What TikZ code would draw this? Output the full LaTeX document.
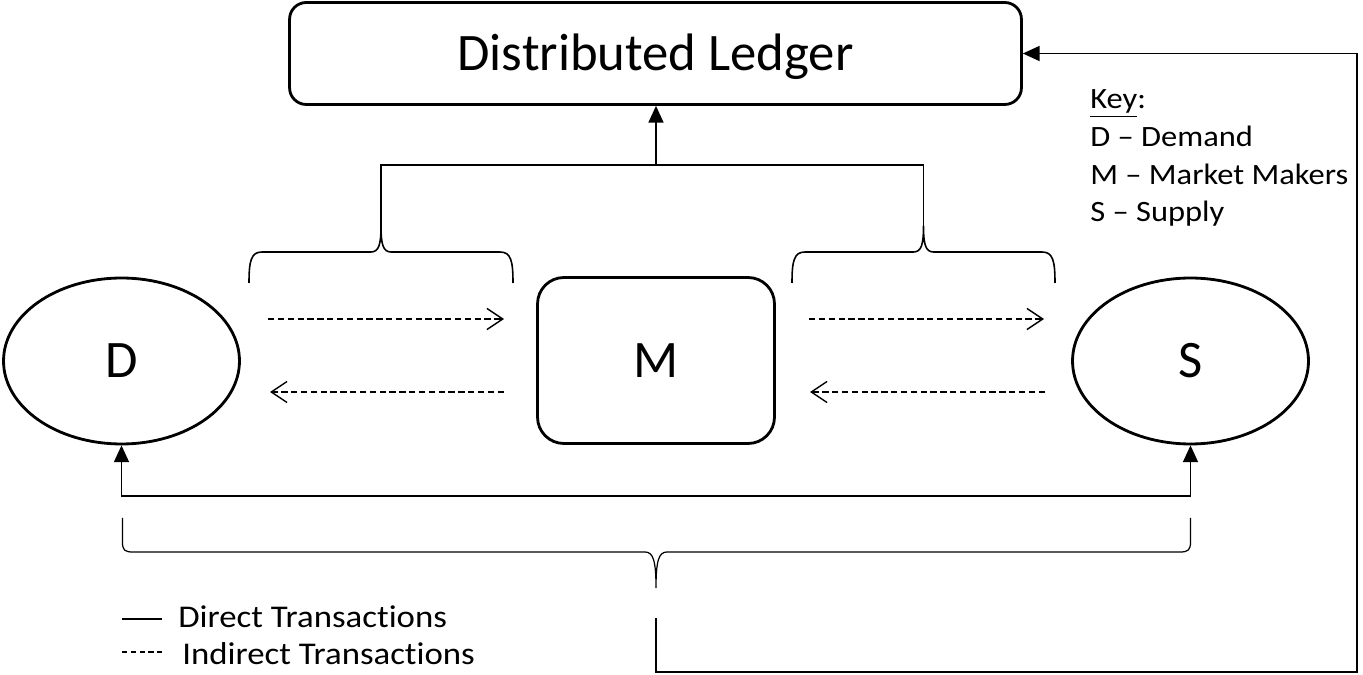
\documentclass[tikz,border=0pt]{standalone}
\usepackage{fontspec}
\setmainfont{Carlito}
\newfontfamily\widefont[FakeStretch=1.1, Ligatures={TeX,NoCommon}]{Carlito}
\usetikzlibrary{arrows.meta,shapes.geometric}
\tikzset{
  shapeline/.style={draw=black, line width=1.6pt},
  conn/.style={draw=black, line width=0.9pt},
  filltip/.style={-{Triangle[length=9.5pt,width=8.5pt]}},
  dasharrow/.style={draw=black, line width=0.8pt, dash pattern=on 3.6pt off 2pt, -{Straight Barb[length=9pt,width=12pt]}},
  bracestyle/.style={draw=black, line width=0.9pt},
  bigtxt/.style={font=\fontsize{30}{36}\selectfont, text height=19pt, text depth=0pt, inner sep=0pt},
  keytxt/.style={font=\widefont\fontsize{16.8}{20}\selectfont, inner sep=0pt, anchor=base west},
  legtxt/.style={font=\widefont\fontsize{18}{21}\selectfont, inner sep=0pt, anchor=base west}
}
\begin{document}
\begin{tikzpicture}[x=0.02cm, y=-0.02cm]
\useasboundingbox[fill=white] (0,0) rectangle (1363,675);

% main nodes
\node[shapeline, rounded corners=9.5pt, minimum width=14.64cm, minimum height=2.04cm, bigtxt] (ledger) at (655.5,53.5) {Distributed Ledger};
\node[shapeline, rounded corners=15pt, minimum width=4.74cm, minimum height=3.32cm, bigtxt] (M) at (656,360.5) {M};
\node[shapeline, ellipse, minimum width=4.72cm, minimum height=3.32cm, bigtxt] (D) at (121.5,361) {D};
\node[shapeline, ellipse, minimum width=4.72cm, minimum height=3.32cm, bigtxt] (S) at (1190.5,361) {S};

% key
\node[keytxt] (k1) at (1090,109) {\underline{Key}:};
\node[keytxt] (k2) at (1090,147) {D – Demand};
\node[keytxt] (k3) at (1090,185) {M – Market Makers};
\node[keytxt] (k4) at (1090,222) {S – Supply};

% coordinates
\coordinate (ltip) at (381,226);
\coordinate (rtip) at (923.5,226);
\coordinate (topj) at (656,165);
\coordinate (bar) at (0,496);
\coordinate (btip) at (656,588);
\coordinate (loopst) at (656,618);
\coordinate (loopbr) at (1357,672);

% top braces
\draw[bracestyle] (249,283) .. controls (249,261) and (251,252) .. (262,252) -- (371,252)
   .. controls (379,252) and (381,244) .. (ltip)
   .. controls (381,244) and (383,252) .. (391,252) -- (500,252)
   .. controls (511,252) and (513,261) .. (513,283);
\draw[bracestyle] (792,283) .. controls (792,261) and (794,252) .. (805,252) -- (913.5,252)
   .. controls (921.5,252) and (923.5,244) .. (rtip)
   .. controls (923.5,244) and (925.5,252) .. (933.5,252) -- (1042,252)
   .. controls (1053,252) and (1055,261) .. (1055,283);

% connector of the top braces to the ledger
\draw[conn] (ltip) -- (ltip |- topj) -- (rtip |- topj) -- (rtip);
\draw[conn, filltip] (topj) -- (topj |- ledger.south);

% bottom direct line D <-> S
\draw[conn, {Triangle[length=9.5pt,width=8.5pt]}-{Triangle[length=9.5pt,width=8.5pt]}]
   (D.south) -- (D.south |- bar) -- (S.south |- bar) -- (S.south);

% bottom brace
\draw[line width=0.7pt] (122.5,518) -- (122.5,542) .. controls (122.5,550) and (124.5,552) .. (133,552) -- (645,552)
   .. controls (653,552) and (656,560) .. (btip)
   .. controls (656,560) and (659,552) .. (667,552) -- (1180,552)
   .. controls (1188,552) and (1190.5,550) .. (1190.5,542) -- (1190.5,518);

% loop back to ledger
\draw[conn, filltip] (loopst) |- (loopbr) |- (ledger.east);

% dashed indirect arrows
\coordinate (a1s) at (268,319);  \coordinate (a1e) at (504,319);
\coordinate (a2s) at (504,392);  \coordinate (a2e) at (270,392);
\coordinate (a3s) at (809,319);  \coordinate (a3e) at (1044,319);
\coordinate (a4s) at (1045,392); \coordinate (a4e) at (810,392);
\draw[dasharrow] (a1s) -- (a1e);
\draw[dasharrow] (a2s) -- (a2e);
\draw[dasharrow] (a3s) -- (a3e);
\draw[dasharrow] (a4s) -- (a4e);

% legend
\coordinate (l1s) at (122,619); \coordinate (l1e) at (162,619);
\coordinate (l2s) at (122,652); \coordinate (l2e) at (162,652);
\draw[line width=0.7pt] (l1s) -- (l1e);
\draw[line width=0.7pt, dash pattern=on 3pt off 2pt] (l2s) -- (l2e);
\node[legtxt] (leg1) at (178,627) {Direct Transactions};
\node[legtxt] (leg2) at (182,664) {Indirect Transactions};
\end{tikzpicture}
\end{document}
